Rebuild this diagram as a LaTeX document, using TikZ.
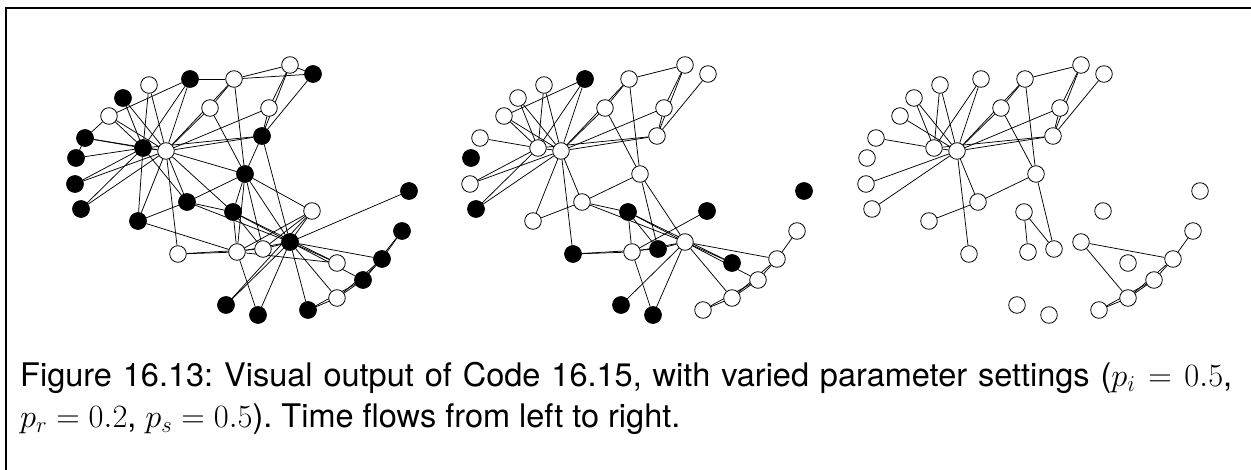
\RequirePackage{fix-cm}
\documentclass[tikz,border=0pt]{standalone}
\usepackage{fontspec}
\setmainfont{TeX Gyre Heros}
\usetikzlibrary{calc}
\pgfdeclarelayer{background}
\pgfsetlayers{background,main}
% node positions of the club network (pixel units, y downwards)
\newcommand{\ClubNodes}{A/290/65,B/313/74,C/190/79,D/234/79,E/149/85,F/123/98,G/210/108,H/269/108,I/109/116,J/85/138,L/262/136,M/143/148,N/166/151,O/76/158,P/75/184,Q/245/174,R/409/191,S/81/209,T/187/202,U/233/212,V/312/211,X/138/221,Y/402/231,Z/290/242,a/178/254,b/237/252,c/263/249,d/337/263,e/382/259,f/363/280,g/337/298,h/226/305,i/258/315,j/308/310}
\tikzset{
  vtx/.style={circle,draw=black,fill=white,line width=0.8pt,minimum size=16.6pt,inner sep=0pt},
  infected/.style={vtx,fill=black},
  link/.style={draw=black,line width=0.75pt},
}

\begin{document}
\begin{tikzpicture}[x=1pt,y=-1pt]
\useasboundingbox (0,0) rectangle (1251,470);
\draw[line width=1.3pt] (6,470) -- (6,8) -- (1251,8);
% the three snapshots
\foreach \k/\off in {1/0,2/395,3/791} {
  \foreach \n/\x/\y in \ClubNodes {
    \node[vtx] (p\k\n) at (\x+\off,\y) {};
  }
}
\foreach \n in {B,C,F,J,L,M,O,P,Q,R,S,T,U,X,Y,Z,e,f,h,i,j}
  \node[infected] (q1\n) at (p1\n) {};
\foreach \n in {C,O,S,U,V,a,c,d,h,i,R}
  \node[infected] (q2\n) at (p2\n) {};
\begin{pgfonlayer}{background}
% t = 1
\foreach \u/\v in {A/B,A/D,C/D,D/B,A/H,H/L,A/L,B/L,D/G,D/Q,G/N,D/N,G/Q,H/N,L/N,L/M,L/Z,Q/L,
    C/I,C/M,C/N,E/M,E/N,F/M,F/N,I/M,I/N,I/J,J/M,J/N,J/O,O/M,P/M,P/N,S/M,S/N,M/N,M/X,N/X,M/T,N/T,N/a,
    N/U,N/Q,Q/T,Q/U,Q/b,Q/c,Q/Z,Q/V,T/U,T/Z,X/T,X/b,a/b,a/c,U/b,U/c,U/Z,
    V/b,V/c,V/Z,h/V,h/Z,i/b,i/Z,j/Z,g/Z,d/Z,U/d,e/Z,f/Z,c/Z,b/Z,R/Z,Y/e,Y/f,e/f,e/g,f/g,f/j,g/j,b/d}
  \draw[link] (p1\u) -- (p1\v);
% t = 2
\foreach \u/\v in {A/D,A/H,H/L,A/L,B/L,D/G,D/Q,G/N,D/N,G/Q,H/N,L/N,L/M,
    C/I,C/M,C/N,E/M,E/N,F/M,F/N,I/M,I/N,J/M,P/M,P/N,S/M,S/N,M/N,N/X,N/T,N/a,
    Q/T,Q/c,Q/Z,T/U,T/Z,X/T,a/b,a/c,U/b,U/c,U/Z,
    V/b,h/Z,i/b,i/Z,g/Z,d/Z,U/d,e/Z,f/Z,c/Z,b/Z,Y/e,e/f,e/g,f/g,f/j,g/j}
  \draw[link] (p2\u) -- (p2\v);
% t = 3
\foreach \u/\v in {A/D,A/H,A/L,H/L,B/L,D/G,D/Q,D/N,G/N,G/Q,H/N,L/N,L/M,
    C/M,C/N,E/M,E/N,F/M,F/N,I/N,J/M,M/N,P/N,S/N,N/T,N/a,X/T,T/Q,Q/c,U/b,U/c,
    Z/e,Z/g,Y/e,e/f,e/g,f/g,f/j,g/j}
  \draw[link] (p3\u) -- (p3\v);
\end{pgfonlayer}
\node[anchor=north west,inner sep=0pt,text width=1212pt,align=justify,
      font=\fontsize{32.5}{41}\selectfont\frenchspacing] (caption) at (20,362)
  {Figure 16.13: Visual output of Code 16.15, with varied parameter settings ($p_i=0.5$,\linebreak $p_r=0.2$, $p_s=0.5$). Time flows from left to right.};
\end{tikzpicture}
\end{document}
